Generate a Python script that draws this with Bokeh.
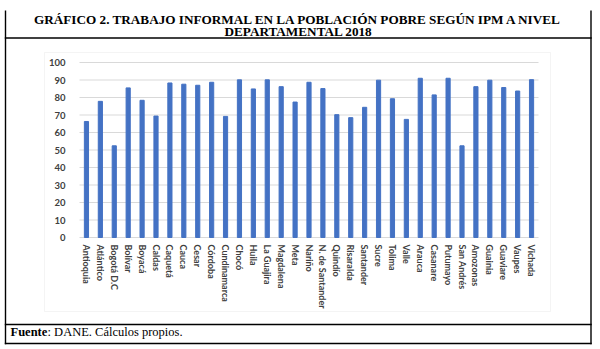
import math
from bokeh.plotting import figure
from bokeh.models import (Label, BoxAnnotation, Range1d, LinearAxis, FixedTicker,
                          SingleIntervalTicker)
from bokeh.embed import file_html
from bokeh.resources import INLINE

departamentos = ["Antioquia", "Atlántico", "Bogotá D.C", "Bolívar", "Boyacá", "Caldas",
                 "Caquetá", "Cauca", "Cesar", "Córdoba", "Cundinamarca", "Chocó", "Huila",
                 "La Guajira", "Magdalena", "Meta", "Nariño", "N. de Santander", "Quindío",
                 "Risaralda", "Santander", "Sucre", "Tolima", "Valle", "Arauca", "Casanare",
                 "Putumayo", "San Andrés", "Amozonas", "Guainia", "Guaviare", "Vaupes", "Vichada"]
informal = [66.3, 77.8, 52.4, 85.5, 78.4, 69.4, 88.3, 87.6, 87.0, 88.7, 69.2, 90.1, 84.9,
            90.1, 86.2, 77.4, 88.7, 85.1, 70.2, 68.5, 74.4, 89.9, 79.3, 67.5, 91.0, 81.5,
            91.0, 52.4, 86.2, 89.9, 85.7, 83.7, 90.2]
y_ticks = list(range(0, 101, 10))

titulo_1 = "GRÁFICO 2. TRABAJO INFORMAL EN LA POBLACIÓN POBRE SEGÚN IPM A NIVEL"
titulo_2 = "DEPARTAMENTAL 2018"
fuente_a = "Fuente"
fuente_b = ": DANE. Cálculos propios."

W, H = 600, 349
# plot area in page pixels
PL, PR, PT, PB = 79, 538, 62, 237
n = len(departamentos)
cat_w = (PR - PL) / n
x_start = -0.5 - PL / cat_w
x_end = n - 0.5 + (W - PR) / cat_w
px_per_unit = (PB - PT) / 100.0
y_start = -(H - PB) / px_per_unit
y_end = 100 + PT / px_per_unit

p = figure(width=W, height=H, x_range=Range1d(x_start, x_end), y_range=Range1d(y_start, y_end),
           output_backend="svg", toolbar_location=None, x_axis_type=None, y_axis_type=None,
           min_border=0)
p.outline_line_color = None
p.background_fill_color = "white"
p.border_fill_color = "white"
p.xgrid.visible = False
p.ygrid.visible = False
p.extra_x_ranges = {"px": Range1d(0, W)}
p.extra_y_ranges = {"px": Range1d(H, 0)}

idx = list(range(n))

# gridlines
p.segment(x0=[-0.5] * len(y_ticks), x1=[n - 0.5] * len(y_ticks), y0=y_ticks, y1=y_ticks,
          line_color="#d9d9d9", line_width=1)

p.vbar(x=idx, top=informal, width=0.3, color="#4472C4")

yax = LinearAxis(fixed_location=-0.5, ticker=SingleIntervalTicker(interval=10), bounds=(0, 100))
xax = LinearAxis(fixed_location=0, ticker=FixedTicker(ticks=idx),
                 major_label_overrides={i: d for i, d in enumerate(departamentos)})
for ax in (xax, yax):
    ax.axis_line_color = None
    ax.major_tick_line_color = None
    ax.minor_tick_line_color = None
    ax.major_tick_out = 0
    ax.major_tick_in = 0
    ax.major_label_text_font = "Lato"
    ax.major_label_text_font_style = "bold"
    ax.major_label_text_color = "#404040"
yax.major_label_text_font_size = "9.5px"
yax.major_label_standoff = 10
xax.major_label_text_font_size = "9px"
xax.major_label_orientation = -math.pi / 2
xax.major_label_standoff = 7
p.add_layout(yax, "left")
p.add_layout(xax, "below")

# chart area border
p.add_layout(BoxAnnotation(left=44, right=550, top=52, bottom=311,
                           x_range_name="px", y_range_name="px",
                           fill_alpha=0, line_color="#d9d9d9", line_width=1))

# table frame lines
p.segment(x0=[5, 590.5, 4.3, 4.3, 4.3], x1=[5, 590.5, 591.2, 591.2, 591.2],
          y0=[10, 10, 37.5, 324, 343], y1=[343.7, 343.7, 37.5, 324, 343],
          x_range_name="px", y_range_name="px", line_color="black", line_width=1.4)

common = dict(x_range_name="px", y_range_name="px", text_baseline="alphabetic",
              text_font="Liberation Serif", text_color="black")
p.add_layout(Label(x=298, y=18.5, text=titulo_1, text_align="center",
                   text_font_style="bold", text_font_size="13.2px", **common))
p.add_layout(Label(x=298, y=31, text=titulo_2, text_align="center",
                   text_font_style="bold", text_font_size="13.2px", **common))
p.add_layout(Label(x=10, y=331, text=fuente_a, text_align="left",
                   text_font_style="bold", text_font_size="12.5px", **common))
p.add_layout(Label(x=47, y=331, text=fuente_b, text_align="left",
                   text_font_size="12.5px", **common))

open("out.html", "w").write(file_html(p, INLINE))
